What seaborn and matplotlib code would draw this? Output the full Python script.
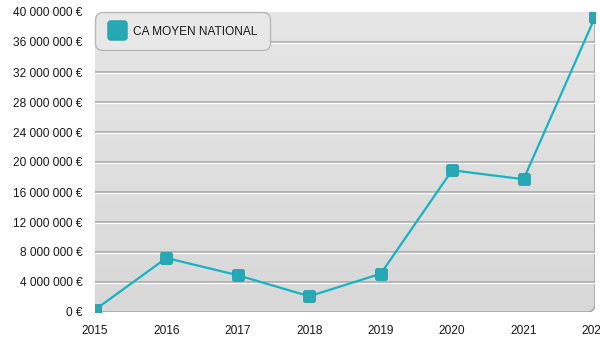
import numpy as np
import pandas as pd
import matplotlib
matplotlib.use("Agg")
import matplotlib.pyplot as plt
from matplotlib.patches import FancyBboxPatch, PathPatch
from matplotlib.path import Path
from matplotlib.colors import LinearSegmentedColormap
from matplotlib.lines import Line2D
from matplotlib import transforms
from matplotlib.ticker import FuncFormatter, FixedLocator
import seaborn as sns

years = [2015, 2016, 2017, 2018, 2019, 2020, 2021, 2022]
ca_moyen = [300_000, 7_200_000, 4_900_000, 2_100_000, 5_100_000, 18_900_000, 17_700_000, 39_300_000]
series_label = "CA MOYEN NATIONAL"
y_ticks = list(range(0, 40_000_001, 4_000_000))

sns.set_theme(style="white")
plt.rcParams["font.family"] = ["Liberation Sans", "DejaVu Sans"]

LINE = "#17b3c3"
MARK = "#26a8b5"
TXT = "#1a1a1a"


def rounded_square(k=0.3):
    """Unit square marker with softened corners."""
    a = 1.0
    b = a - k
    verts = [(-b, -a), (b, -a), (a, -a), (a, -b), (a, b), (a, a), (b, a),
             (-b, a), (-a, a), (-a, b), (-a, -b), (-a, -a), (-b, -a), (-b, -a)]
    codes = [Path.MOVETO, Path.LINETO, Path.CURVE3, Path.CURVE3, Path.LINETO,
             Path.CURVE3, Path.CURVE3, Path.LINETO, Path.CURVE3, Path.CURVE3,
             Path.LINETO, Path.CURVE3, Path.CURVE3, Path.CLOSEPOLY]
    return Path(verts, codes)


RSQ = rounded_square()

W, H = 600, 350
fig = plt.figure(figsize=(W / 100, H / 100), dpi=100)
fig.patch.set_facecolor("white")

px_l, px_r, px_t, px_b = 95, 595, 12, 312
rect = [px_l / W, 1 - px_b / H, (px_r - px_l) / W, (px_b - px_t) / H]
pw, ph = px_r - px_l, px_b - px_t

# background panel in pixel units: gradient fill with rounded corners
bg = fig.add_axes(rect, zorder=0)
bg.set_xlim(0, pw)
bg.set_ylim(0, ph)
bg.axis("off")
panel = FancyBboxPatch((0, 0), pw, ph, boxstyle="round,pad=0,rounding_size=8",
                       facecolor="none", edgecolor="none", transform=bg.transData)
bg.add_patch(panel)
cmap = LinearSegmentedColormap.from_list("panel", ["#d8d8d8", "#e6e6e6"])
grad = np.linspace(0, 1, 256).reshape(-1, 1)
im = bg.imshow(grad, extent=(0, pw, 0, ph), origin="lower", cmap=cmap,
               aspect="auto", interpolation="bicubic")
im.set_clip_path(panel)
r = 8
border = Path([(pw, ph), (pw, r), (pw, 0), (pw - r, 0), (r, 0), (0, 0), (0, r)],
              [Path.MOVETO, Path.LINETO, Path.CURVE3, Path.CURVE3,
               Path.LINETO, Path.CURVE3, Path.CURVE3])
bg.add_patch(PathPatch(border, facecolor="none", edgecolor="#a8a8a8", lw=1.2))

# data axes on top
ax = fig.add_axes(rect, zorder=1)
ax.patch.set_alpha(0)
for s in ax.spines.values():
    s.set_visible(False)

df = pd.DataFrame({"annee": years, "ca": ca_moyen})

for t in y_ticks[1:-1]:
    ax.axhline(t, color="#a6a6a6", lw=1.1, zorder=1)
    white = transforms.offset_copy(ax.get_yaxis_transform(), fig=fig, y=-1.3, units="dots")
    ax.plot([0, 1], [t, t], color="white", lw=0.9, transform=white, zorder=1)

sns.lineplot(data=df, x="annee", y="ca", ax=ax, color=LINE, lw=1.6,
             marker=RSQ, markersize=8.5, markerfacecolor=MARK,
             markeredgecolor="#1f9fac", markeredgewidth=0.6, zorder=3)

ax.set_xlim(2015, 2022)
ax.set_ylim(0, 40_000_000)
ax.xaxis.set_major_locator(FixedLocator(years))
ax.yaxis.set_major_locator(FixedLocator(y_ticks))
ax.yaxis.set_major_formatter(FuncFormatter(lambda v, p: f"{int(round(v)):,}".replace(",", " ") + " €"))
ax.set_xlabel("")
ax.set_ylabel("")
ax.tick_params(axis="both", length=0, labelsize=8.6, labelcolor=TXT)
ax.tick_params(axis="y", pad=9)
ax.tick_params(axis="x", pad=9)
ax.grid(False)

handle = Line2D([], [], linestyle="none", marker=RSQ, markersize=14,
                markerfacecolor=MARK, markeredgecolor="#1f9fac", markeredgewidth=0.6)
leg = ax.legend([handle], [series_label], loc="upper left", bbox_to_anchor=(0, 1),
                borderaxespad=0, fontsize=8.6, frameon=True, fancybox=True,
                borderpad=1.0, handlelength=1.6, handleheight=1.5, handletextpad=0.6)
frame = leg.get_frame()
frame.set_boxstyle("round,pad=0,rounding_size=0.65")
frame.set_facecolor("#e8e8e8")
frame.set_edgecolor("#b8b8b8")
frame.set_alpha(1)
frame.set_linewidth(1.0)
for txt in leg.get_texts():
    txt.set_color(TXT)

fig.savefig("out.png", dpi=100)
